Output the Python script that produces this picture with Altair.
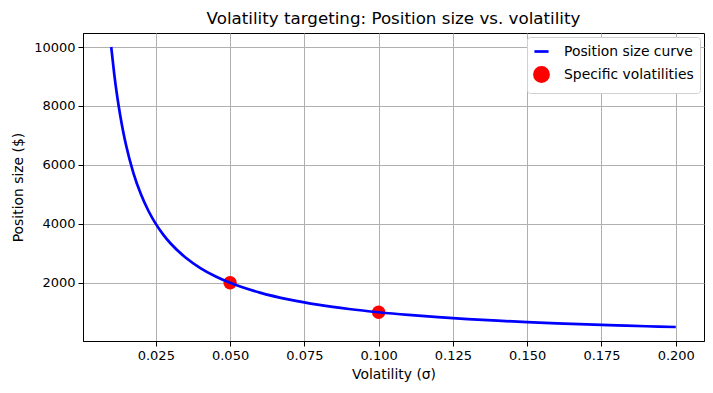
import altair as alt
import pandas as pd

# Values
curve_vol = [0.010, 0.011, 0.012, 0.013, 0.014, 0.015, 0.0175, 0.020, 0.0225, 0.025,
             0.0275, 0.030, 0.035, 0.040, 0.045, 0.050, 0.060, 0.070, 0.080, 0.090,
             0.100, 0.110, 0.120, 0.130, 0.140, 0.150, 0.160, 0.170, 0.180, 0.190, 0.200]
curve_size = [10000, 9091, 8333, 7692, 7143, 6667, 5714, 5000, 4444, 4000,
              3636, 3333, 2857, 2500, 2222, 2000, 1667, 1429, 1250, 1111,
              1000, 909, 833, 769, 714, 667, 625, 588, 556, 526, 500]
point_vol = [0.05, 0.10]
point_size = [2000, 1000]
series_names = ["Position size curve", "Specific volatilities"]
x_ticks = [0.025, 0.050, 0.075, 0.100, 0.125, 0.150, 0.175, 0.200]
y_ticks = [2000, 4000, 6000, 8000, 10000]

curve = pd.DataFrame({"vol": curve_vol, "size": curve_size, "series": series_names[0]})
pts = pd.DataFrame({"vol": point_vol, "size": point_size, "series": series_names[1]})

FONT = "DejaVu Sans"

color_scale = alt.Scale(domain=series_names, range=["#0000ff", "#ff0000"])
shape_scale = alt.Scale(domain=series_names, range=["stroke", "circle"])

legend = alt.Legend(
    title=None, orient="top-right", offset=4,
    fillColor="white", strokeColor="#d0d0d0", cornerRadius=3,
    padding=6, labelFont=FONT, labelFontSize=13.9, labelColor="black",
    symbolSize=200, symbolStrokeWidth=2.7, rowPadding=3, labelOffset=14,
    symbolOpacity=1,
)

x_enc = alt.X("vol:Q", scale=alt.Scale(domain=[0.0005, 0.2095], nice=False, zero=False),
              axis=alt.Axis(title="Volatility (σ)", values=x_ticks, format=".3f"))
y_enc = alt.Y("size:Q", scale=alt.Scale(domain=[25, 10475], nice=False, zero=False),
              axis=alt.Axis(title="Position size ($)", values=y_ticks, format="d"))

points = alt.Chart(pts).mark_point(size=180, opacity=1, filled=True).encode(
    x=x_enc, y=y_enc,
    color=alt.Color("series:N", scale=color_scale, legend=legend),
    shape=alt.Shape("series:N", scale=shape_scale, legend=legend),
)
line = alt.Chart(curve).mark_line(strokeWidth=2.7, interpolate="monotone").encode(
    x="vol:Q", y="size:Q",
    color=alt.Color("series:N", scale=color_scale, legend=legend),
    shape=alt.Shape("series:N", scale=shape_scale, legend=legend),
)

chart = alt.layer(points, line).properties(
    width=621, height=308,
    autosize=alt.AutoSizeParams(type="none"),
    padding={"left": 75, "top": 25, "right": 1, "bottom": 45},
    title=alt.Title("Volatility targeting: Position size vs. volatility",
                    font=FONT, fontSize=16.7, fontWeight="normal", color="black",
                    anchor="middle", offset=5),
).configure_view(stroke="black", strokeWidth=1).configure_axis(
    labelFont=FONT, labelFontSize=13, labelColor="black",
    titleFont=FONT, titleFontSize=13.9, titleColor="black", titleFontWeight="normal",
    grid=True, gridColor="#b0b0b0", gridWidth=1,
    domainColor="black", domainWidth=1,
    tickColor="black", tickSize=5, tickWidth=1, labelPadding=3,
).configure_axisX(titlePadding=5).configure_axisY(titlePadding=8)

chart.save("out.html", embed_options={"renderer": "svg", "actions": False})
